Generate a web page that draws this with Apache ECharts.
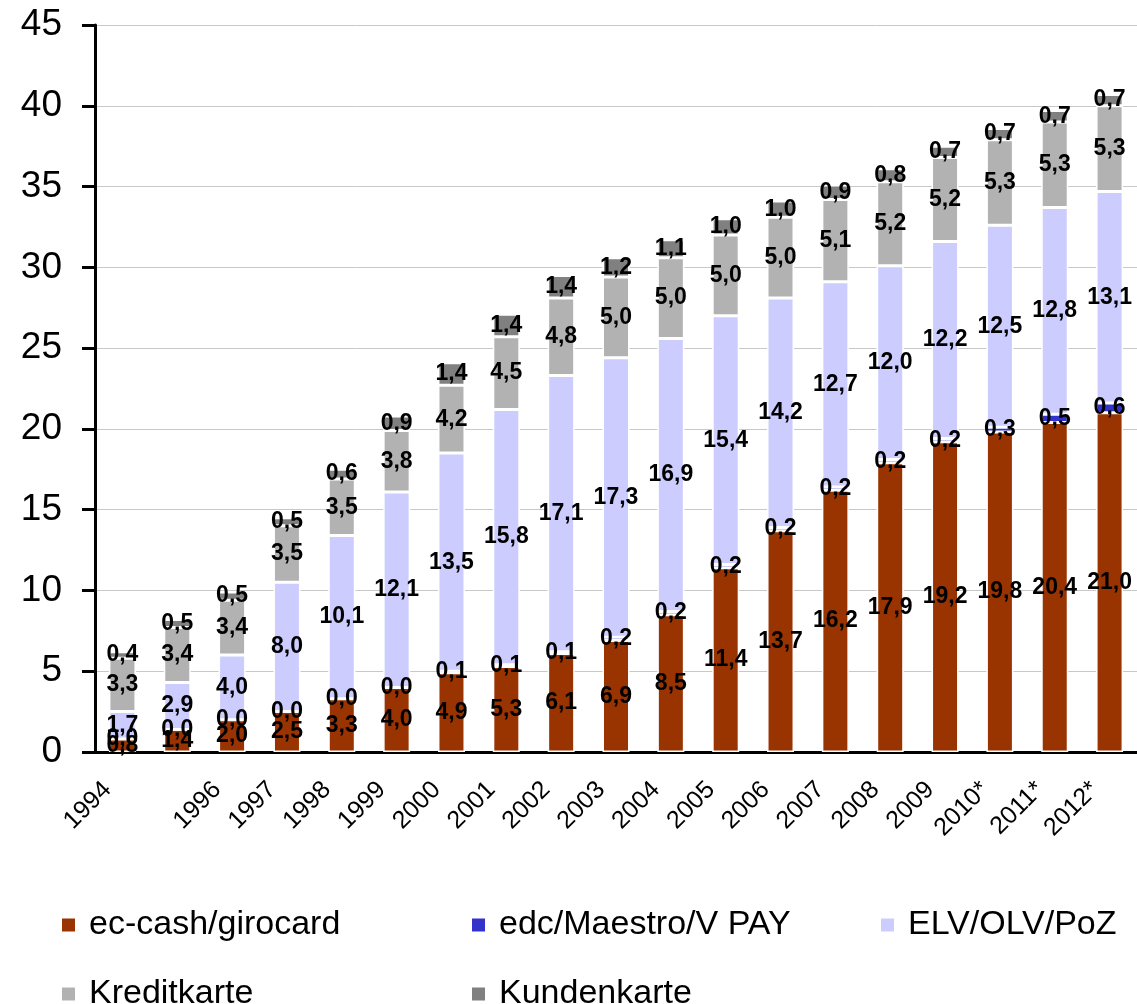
<!DOCTYPE html>
<html>
<head>
<meta charset="utf-8">
<script src="https://cdn.jsdelivr.net/npm/echarts@6/dist/echarts.min.js"></script>
<style>
  html, body { margin: 0; padding: 0; background: #fff; }
  #chart { width: 1137px; height: 1004px; }
</style>
</head>
<body>
<div id="chart"></div>
<script>
// categories and tick labels (1995 has no label in the original)
const years = ['1994', '1995', '1996', '1997', '1998', '1999', '2000', '2001', '2002', '2003',
  '2004', '2005', '2006', '2007', '2008', '2009', '2010*', '2011*', '2012*'];
const tickLabels = ['1994', '', '1996', '1997', '1998', '1999', '2000', '2001', '2002', '2003',
  '2004', '2005', '2006', '2007', '2008', '2009', '2010*', '2011*', '2012*'];

// series values
const ecCash = [0.8, 1.4, 2.0, 2.5, 3.3, 4.0, 4.9, 5.3, 6.1, 6.9, 8.5, 11.4, 13.7, 16.2, 17.9, 19.2, 19.8, 20.4, 21.0];
const edcMaestro = [0.0, 0.0, 0.0, 0.0, 0.0, 0.0, 0.1, 0.1, 0.1, 0.2, 0.2, 0.2, 0.2, 0.2, 0.2, 0.2, 0.3, 0.5, 0.6];
const elv = [1.7, 2.9, 4.0, 8.0, 10.1, 12.1, 13.5, 15.8, 17.1, 17.3, 16.9, 15.4, 14.2, 12.7, 12.0, 12.2, 12.5, 12.8, 13.1];
const kredit = [3.3, 3.4, 3.4, 3.5, 3.5, 3.8, 4.2, 4.5, 4.8, 5.0, 5.0, 5.0, 5.0, 5.1, 5.2, 5.2, 5.3, 5.3, 5.3];
const kunden = [0.4, 0.5, 0.5, 0.5, 0.6, 0.9, 1.4, 1.4, 1.4, 1.2, 1.1, 1.0, 1.0, 0.9, 0.8, 0.7, 0.7, 0.7, 0.7];

const seriesNames = ['ec-cash/girocard', 'edc/Maestro/V PAY', 'ELV/OLV/PoZ', 'Kreditkarte', 'Kundenkarte'];
const colors = ['#993300', '#3333CC', '#CCCCFF', '#B2B2B2', '#808080'];

const font = "'Liberation Sans', Arial, sans-serif";
const chart = echarts.init(document.getElementById('chart'));

const makeSeries = (name, values, color) => ({
  name: name,
  type: 'bar',
  stack: 'total',
  barWidth: 27,
  data: values,
  itemStyle: { color: color, borderColor: '#ffffff', borderWidth: 1.5 },
  label: {
    show: true,
    position: 'inside',
    color: '#000',
    fontFamily: font,
    fontWeight: 'bold',
    fontSize: 23,
    formatter: p => p.value.toFixed(1).replace('.', ',')
  }
});

// one legend per entry so the columns line up like the original
const legendPos = [
  { left: 55, top: 903 },
  { left: 465, top: 903 },
  { left: 874, top: 903 },
  { left: 55, top: 972 },
  { left: 465, top: 972 }
];
const legends = seriesNames.map((n, i) => ({
  data: [n],
  left: legendPos[i].left,
  top: legendPos[i].top,
  icon: 'rect',
  itemWidth: 15,
  itemHeight: 15,
  selectedMode: false,
  textStyle: { fontFamily: font, fontSize: 34, color: '#000', padding: [0, 0, 0, 8] }
}));

chart.setOption({
  animation: false,
  backgroundColor: '#fff',
  color: colors,
  legend: legends,
  grid: { left: 95, top: 25, right: -14, bottom: 252 },
  xAxis: [
    {
      type: 'category',
      data: years,
      position: 'bottom',
      axisLine: { lineStyle: { color: '#000', width: 3 } },
      axisTick: { length: 9, lineStyle: { color: '#000', width: 2 } },
      axisLabel: {
        interval: 0,
        rotate: 45,
        margin: 19,
        padding: [0, 21, 0, 0],
        color: '#000',
        fontFamily: font,
        fontSize: 25,
        formatter: (v, i) => tickLabels[i]
      }
    },
    {
      type: 'category',
      data: years,
      position: 'bottom',
      axisLine: { show: false },
      axisTick: { inside: true, length: 9, lineStyle: { color: '#000', width: 2 } },
      axisLabel: { show: false }
    }
  ],
  yAxis: {
    type: 'value',
    min: 0,
    max: 45,
    interval: 5,
    axisLine: { show: true, lineStyle: { color: '#000', width: 3 } },
    axisTick: { show: true, length: 13, lineStyle: { color: '#000', width: 3 } },
    axisLabel: { margin: 33, color: '#000', fontFamily: font, fontSize: 37 },
    splitLine: { lineStyle: { color: '#C8C8C8', width: 1 } }
  },
  series: [
    makeSeries(seriesNames[0], ecCash, colors[0]),
    makeSeries(seriesNames[1], edcMaestro, colors[1]),
    makeSeries(seriesNames[2], elv, colors[2]),
    makeSeries(seriesNames[3], kredit, colors[3]),
    makeSeries(seriesNames[4], kunden, colors[4])
  ]
});
</script>
</body>
</html>
